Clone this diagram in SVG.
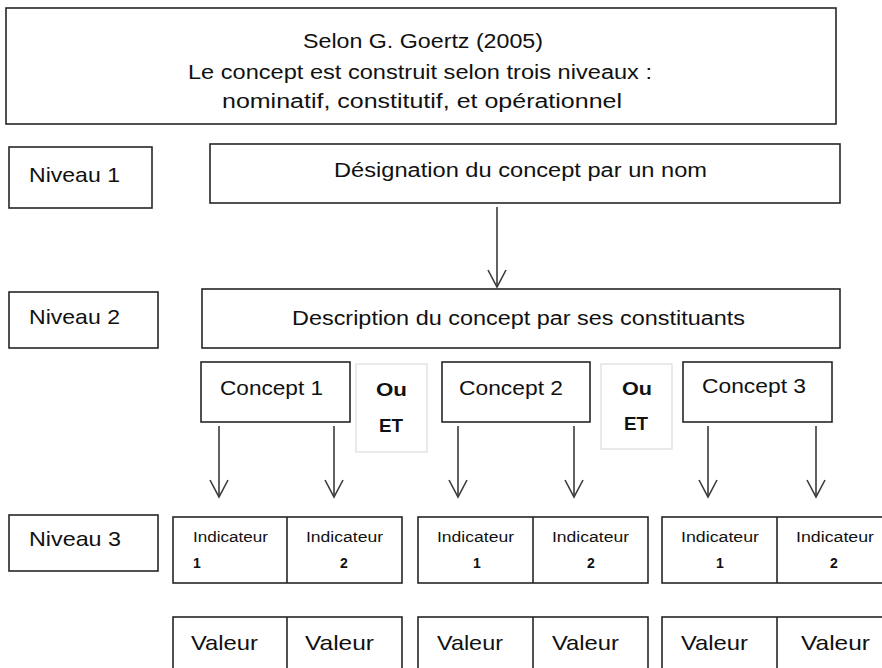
<svg xmlns="http://www.w3.org/2000/svg" width="882" height="668" viewBox="0 0 882 668">
<style>
  .box { fill: #fff; stroke: #262626; stroke-width: 1.6; }
  .light { fill: #fff; stroke: #dcdcdc; stroke-width: 1.2; }
  text { font-family: "Liberation Sans", Arial, sans-serif; fill: #111; }
  .t { font-size: 20px; }
  .lab { font-size: 21px; }
  .ind { font-size: 14px; }
  .num { font-size: 14px; font-weight: bold; }
  .val { font-size: 21px; }
  .oe { font-size: 19px; font-weight: bold; }
  .conn line { stroke: #3a3a3a; stroke-width: 1.6; fill: none; }
</style>
<defs>
  <marker id="vhead" markerUnits="userSpaceOnUse" viewBox="-19 -11 21 22" markerWidth="21" markerHeight="22" refX="0" refY="0" orient="auto">
    <path d="M-17,-9 L0,0 L-17,9" fill="none" stroke="#3a3a3a" stroke-width="1.6"/>
  </marker>
</defs>
<rect width="882" height="668" fill="#fff"/>

<g id="title">
  <rect class="box" x="6" y="8" width="830" height="116"/>
  <text class="t" x="423" y="48" text-anchor="middle" textLength="240" lengthAdjust="spacingAndGlyphs">Selon G. Goertz (2005)</text>
  <text class="t" x="420" y="79" text-anchor="middle" textLength="464" lengthAdjust="spacingAndGlyphs">Le concept est construit selon trois niveaux :</text>
  <text class="t" x="422" y="108" text-anchor="middle" textLength="400" lengthAdjust="spacingAndGlyphs">nominatif, constitutif, et opérationnel</text>
</g>

<g id="niveau1">
  <rect class="box" x="9" y="147" width="143" height="61"/>
  <text class="lab" x="29" y="182" textLength="91" lengthAdjust="spacingAndGlyphs">Niveau 1</text>
</g>
<g id="designation">
  <rect class="box" x="210" y="144" width="630" height="59"/>
  <text class="t" x="334" y="177" textLength="373" lengthAdjust="spacingAndGlyphs">Désignation du concept par un nom</text>
</g>

<g id="niveau2">
  <rect class="box" x="9" y="292" width="149" height="56"/>
  <text class="lab" x="29" y="324" textLength="91" lengthAdjust="spacingAndGlyphs">Niveau 2</text>
</g>
<g id="description">
  <rect class="box" x="202" y="289" width="638" height="59"/>
  <text class="t" x="292" y="325" textLength="453" lengthAdjust="spacingAndGlyphs">Description du concept par ses constituants</text>
</g>

<g id="concept1">
  <rect class="box" x="201" y="362" width="149" height="60"/>
  <text class="lab" x="220" y="395" textLength="103" lengthAdjust="spacingAndGlyphs">Concept 1</text>
</g>
<g id="ou1">
  <rect class="light" x="356" y="364" width="71" height="88"/>
  <text class="oe" x="391.5" y="396" text-anchor="middle" textLength="31" lengthAdjust="spacingAndGlyphs">Ou</text>
  <text class="oe" x="391" y="432" text-anchor="middle" textLength="24" lengthAdjust="spacingAndGlyphs">ET</text>
</g>
<g id="concept2">
  <rect class="box" x="442" y="362" width="148" height="60"/>
  <text class="lab" x="459" y="395" textLength="104" lengthAdjust="spacingAndGlyphs">Concept 2</text>
</g>
<g id="ou2">
  <rect class="light" x="601" y="364" width="71" height="85"/>
  <text class="oe" x="637" y="395" text-anchor="middle" textLength="30" lengthAdjust="spacingAndGlyphs">Ou</text>
  <text class="oe" x="636" y="430" text-anchor="middle" textLength="24" lengthAdjust="spacingAndGlyphs">ET</text>
</g>
<g id="concept3">
  <rect class="box" x="683" y="362" width="149" height="60"/>
  <text class="lab" x="702" y="393" textLength="104" lengthAdjust="spacingAndGlyphs">Concept 3</text>
</g>

<g id="niveau3">
  <rect class="box" x="9" y="515" width="149" height="56"/>
  <text class="lab" x="29" y="546" textLength="92" lengthAdjust="spacingAndGlyphs">Niveau 3</text>
</g>

<g id="indicateurs1">
  <rect class="box" x="173" y="517" width="229" height="66"/>
  <line x1="287" y1="517" x2="287" y2="583" stroke="#262626" stroke-width="1.6"/>
  <text class="ind" x="193" y="542" textLength="75" lengthAdjust="spacingAndGlyphs">Indicateur</text>
  <text class="num" x="193" y="568">1</text>
  <text class="ind" x="306" y="542" textLength="77" lengthAdjust="spacingAndGlyphs">Indicateur</text>
  <text class="num" x="344" y="568" text-anchor="middle">2</text>
</g>
<g id="indicateurs2">
  <rect class="box" x="418" y="517" width="230" height="66"/>
  <line x1="533" y1="517" x2="533" y2="583" stroke="#262626" stroke-width="1.6"/>
  <text class="ind" x="437" y="542" textLength="77" lengthAdjust="spacingAndGlyphs">Indicateur</text>
  <text class="num" x="477" y="568" text-anchor="middle">1</text>
  <text class="ind" x="552" y="542" textLength="77" lengthAdjust="spacingAndGlyphs">Indicateur</text>
  <text class="num" x="591" y="568" text-anchor="middle">2</text>
</g>
<g id="indicateurs3">
  <rect class="box" x="662" y="517" width="230" height="66"/>
  <line x1="777" y1="517" x2="777" y2="583" stroke="#262626" stroke-width="1.6"/>
  <text class="ind" x="681" y="542" textLength="78" lengthAdjust="spacingAndGlyphs">Indicateur</text>
  <text class="num" x="720" y="568" text-anchor="middle">1</text>
  <text class="ind" x="796" y="542" textLength="78" lengthAdjust="spacingAndGlyphs">Indicateur</text>
  <text class="num" x="834" y="568" text-anchor="middle">2</text>
</g>

<g id="valeurs1">
  <rect class="box" x="173" y="617" width="229" height="60"/>
  <line x1="287" y1="617" x2="287" y2="677" stroke="#262626" stroke-width="1.6"/>
  <text class="val" x="191" y="650" textLength="67" lengthAdjust="spacingAndGlyphs">Valeur</text>
  <text class="val" x="305" y="650" textLength="69" lengthAdjust="spacingAndGlyphs">Valeur</text>
</g>
<g id="valeurs2">
  <rect class="box" x="418" y="617" width="230" height="60"/>
  <line x1="533" y1="617" x2="533" y2="677" stroke="#262626" stroke-width="1.6"/>
  <text class="val" x="437" y="650" textLength="66" lengthAdjust="spacingAndGlyphs">Valeur</text>
  <text class="val" x="552" y="650" textLength="67" lengthAdjust="spacingAndGlyphs">Valeur</text>
</g>
<g id="valeurs3">
  <rect class="box" x="662" y="617" width="230" height="60"/>
  <line x1="777" y1="617" x2="777" y2="677" stroke="#262626" stroke-width="1.6"/>
  <text class="val" x="681" y="650" textLength="67" lengthAdjust="spacingAndGlyphs">Valeur</text>
  <text class="val" x="801" y="650" textLength="69" lengthAdjust="spacingAndGlyphs">Valeur</text>
</g>

<g id="connectors" class="conn">
  <line x1="497" y1="207" x2="497" y2="287" marker-end="url(#vhead)"/>
  <line x1="219" y1="426" x2="219" y2="497" marker-end="url(#vhead)"/>
  <line x1="334" y1="426" x2="334" y2="497" marker-end="url(#vhead)"/>
  <line x1="458" y1="426" x2="458" y2="497" marker-end="url(#vhead)"/>
  <line x1="574" y1="426" x2="574" y2="497" marker-end="url(#vhead)"/>
  <line x1="708" y1="426" x2="708" y2="497" marker-end="url(#vhead)"/>
  <line x1="816" y1="426" x2="816" y2="497" marker-end="url(#vhead)"/>
</g>
</svg>
